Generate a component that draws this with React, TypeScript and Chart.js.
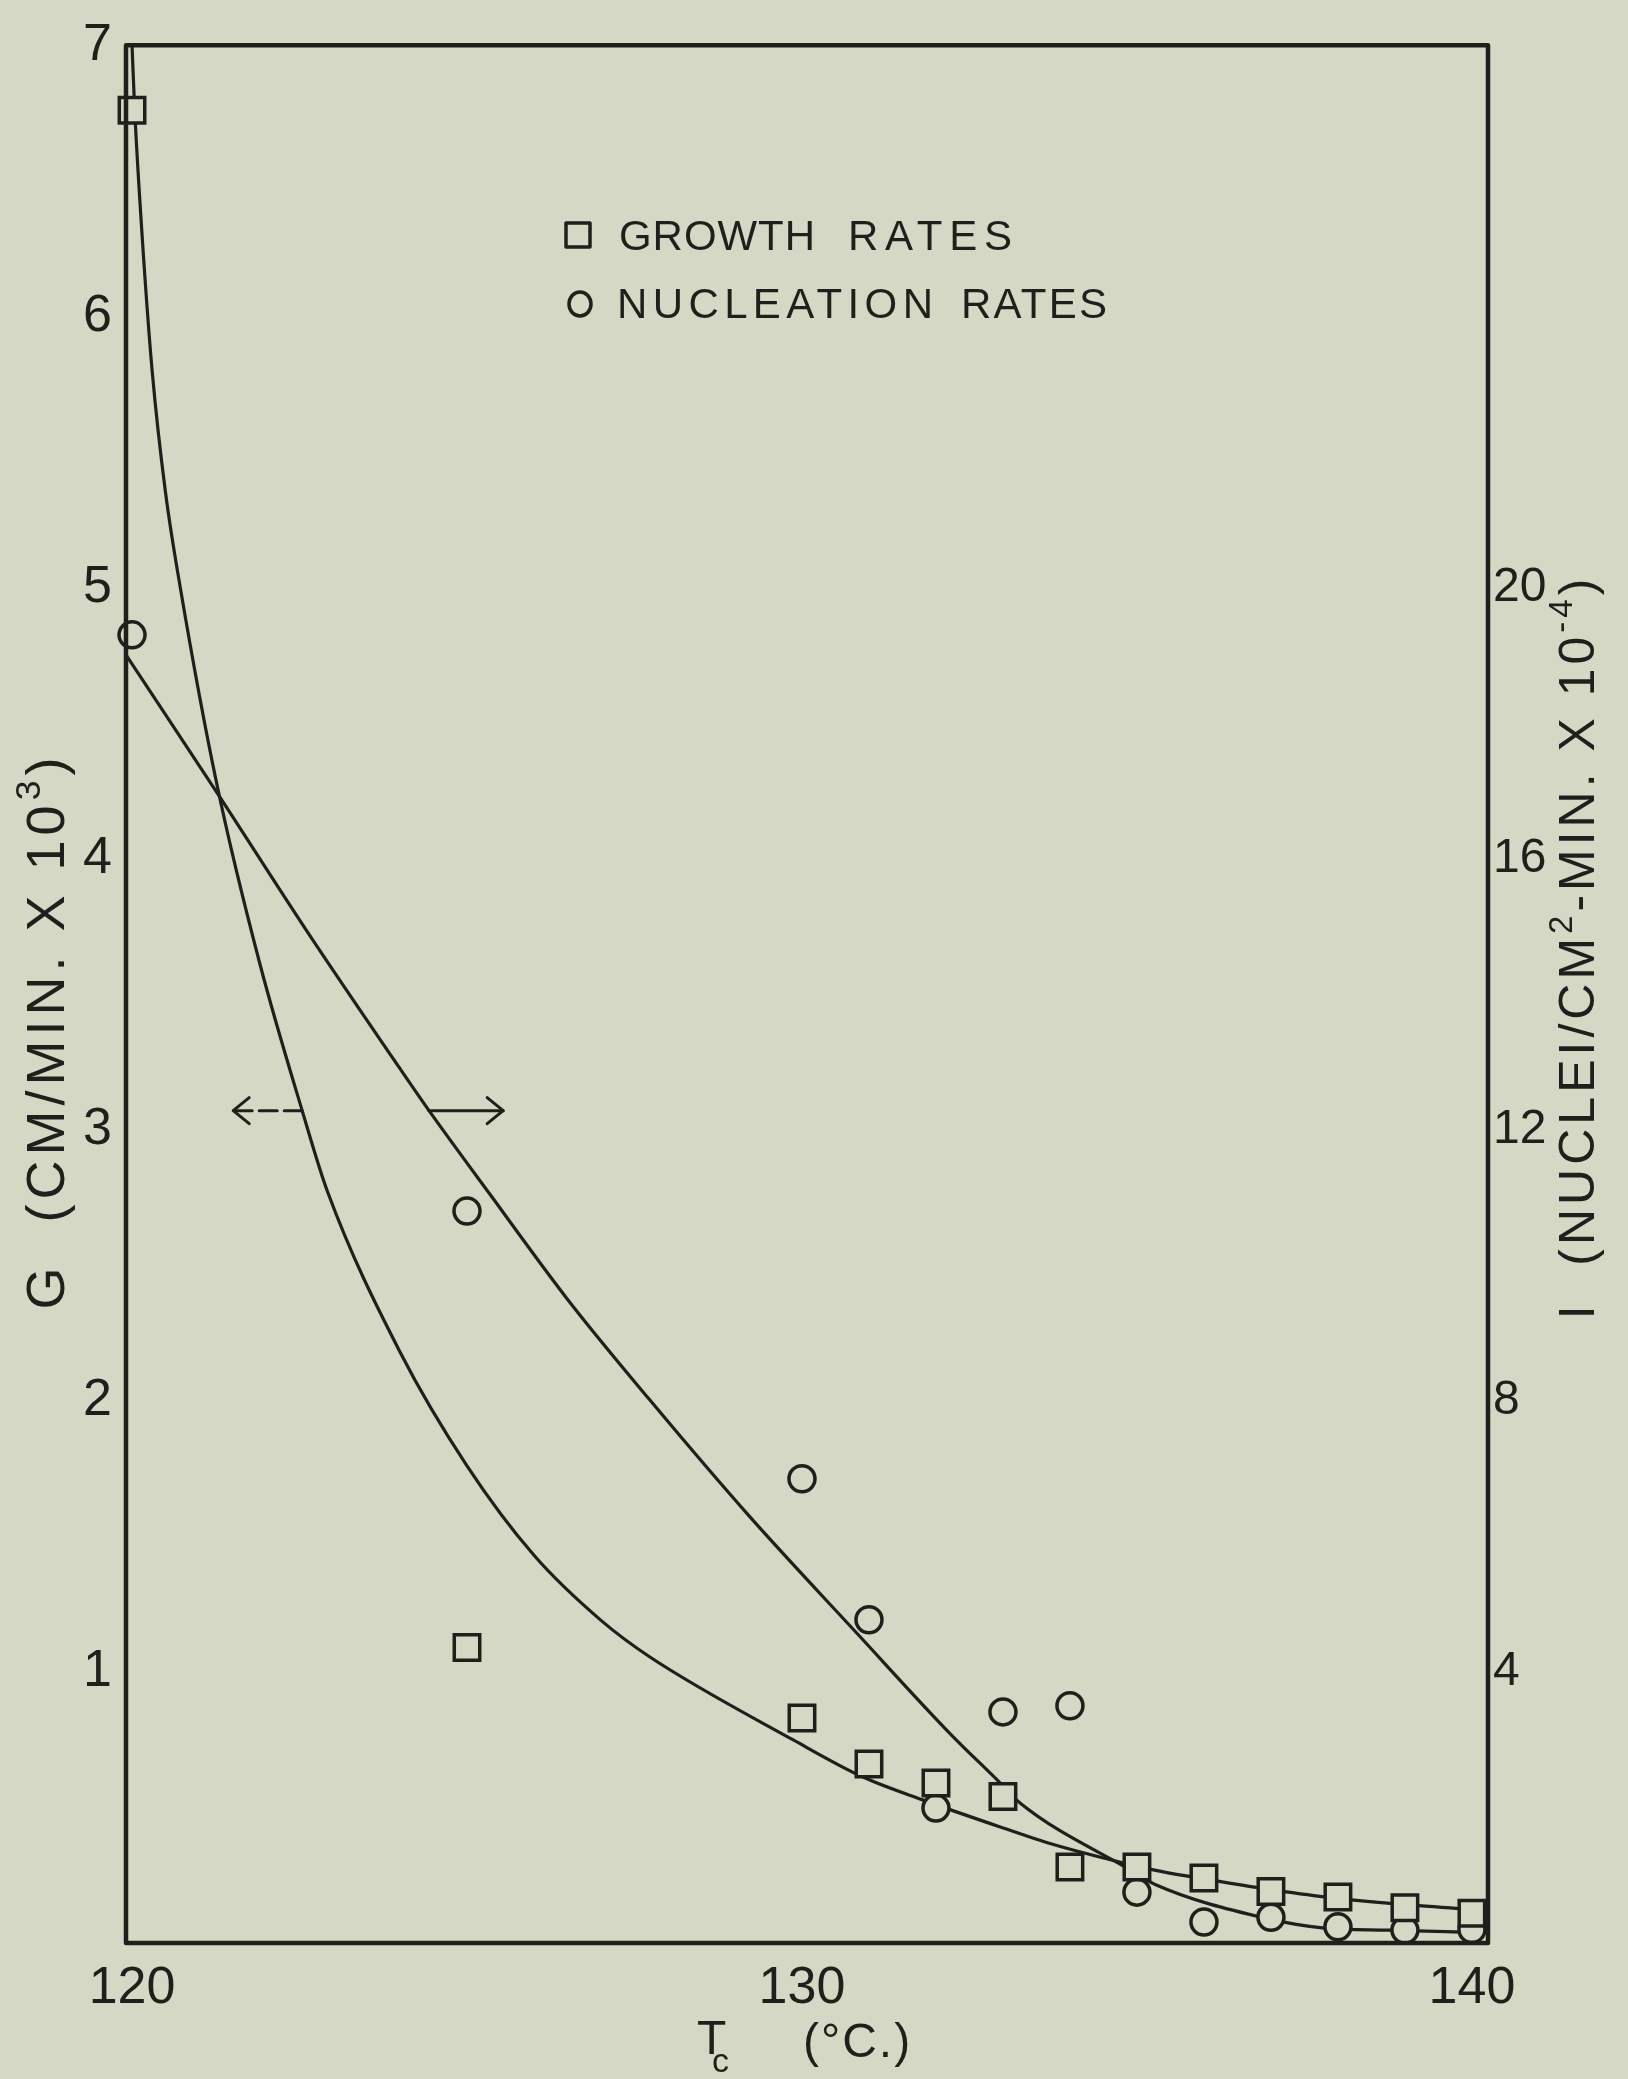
import React, { useEffect, useRef } from 'react';
import { Chart, registerables } from 'chart.js';

Chart.register(...registerables);

const W = 1628;
const H = 2079;
const BG = '#d6d8c6';
const INK = '#1f1f1c';
const FONT = "'Liberation Sans', Arial, sans-serif";

// ---- measured points ----
const growthT = [120, 125, 130, 131, 132, 133, 134, 135, 136, 137, 138, 139, 140];
const growthG = [6.76, 1.09, 0.83, 0.66, 0.59, 0.54, 0.28, 0.28, 0.24, 0.19, 0.17, 0.13, 0.11];

const nucT = [120, 125, 130, 131, 132, 133, 134, 135, 136, 137, 138, 139, 140];
const nucI = [19.3, 10.8, 6.85, 4.77, 1.99, 3.41, 3.5, 0.75, 0.31, 0.38, 0.24, 0.19, 0.2];

// ---- hand-drawn fitted curves ----
const gCurveT = [120.0, 120.04, 120.15, 120.3, 120.5, 120.72, 121.27, 121.91, 122.54, 122.92, 124.0, 125.0, 126.0, 127.0, 127.73, 129.87, 130.91, 131.81, 132.96, 133.73, 134.8, 135.28, 136.21, 136.78, 137.73, 138.78, 139.76, 140.24];
const gCurveG = [7.0, 6.76, 6.3, 5.8, 5.35, 5.0, 4.27, 3.61, 3.07, 2.77, 2.18, 1.76, 1.43, 1.19, 1.055, 0.749, 0.612, 0.527, 0.428, 0.365, 0.295, 0.268, 0.228, 0.205, 0.172, 0.146, 0.128, 0.12];

const nCurveT = [119.92, 121.29, 122.61, 124.0, 124.42, 125.34, 126.49, 127.73, 129.22, 130.82, 132.21, 132.96, 133.25, 134.93, 135.28, 136.9, 137.8, 138.75, 140.24];
const nCurveI = [18.99, 16.94, 14.93, 12.9, 12.3, 11.05, 9.51, 8.01, 6.29, 4.57, 3.09, 2.36, 2.07, 1.06, 0.86, 0.37, 0.22, 0.19, 0.15];

// ---- axes ----
const xTicks = [120, 130, 140];
const gTicks = [1, 2, 3, 4, 5, 6, 7];
const iTicks = [4, 8, 12, 16, 20];
const xRange = [119.91, 140.24];
const gRange = [0, 7];
const iRange = [0, 28];

// ---- arrows telling which axis each curve uses ----
const arrowLevelG = 3.07;
const arrowLeftT = [122.54, 121.51];
const arrowRightT = [124.43, 125.54];

type Part = { t: string; sup?: boolean; sub?: boolean };

function richWidth(ctx: CanvasRenderingContext2D, parts: Part[], size: number, spacing: number) {
  let w = 0;
  for (const p of parts) {
    const s = p.sup || p.sub ? size * 0.66 : size;
    ctx.font = `${s}px ${FONT}`;
    (ctx as any).letterSpacing = `${spacing}px`;
    w += ctx.measureText(p.t).width;
  }
  return w;
}

function drawRich(ctx: CanvasRenderingContext2D, parts: Part[], x: number, y: number, size: number, spacing: number) {
  let cx = x;
  for (const p of parts) {
    const s = p.sup || p.sub ? size * 0.66 : size;
    ctx.font = `${s}px ${FONT}`;
    (ctx as any).letterSpacing = `${spacing}px`;
    const dy = p.sup ? -size * 0.45 : p.sub ? size * 0.32 : 0;
    ctx.fillText(p.t, cx, y + dy);
    cx += ctx.measureText(p.t).width;
  }
}

// draw a word so that it spans from x0 to x1
function fitWord(ctx: CanvasRenderingContext2D, word: string, x0: number, x1: number, y: number, size: number) {
  ctx.font = `${size}px ${FONT}`;
  (ctx as any).letterSpacing = '0px';
  const natural = ctx.measureText(word).width;
  const sp = word.length > 1 ? (x1 - x0 - natural) / (word.length - 1) : 0;
  (ctx as any).letterSpacing = `${sp}px`;
  ctx.fillText(word, x0, y);
  (ctx as any).letterSpacing = '0px';
}

const decor = {
  id: 'decor',
  beforeDraw(chart: any) {
    const ctx = chart.ctx as CanvasRenderingContext2D;
    ctx.save();
    ctx.fillStyle = BG;
    ctx.fillRect(0, 0, chart.width, chart.height);
    ctx.restore();
  },
  afterDraw(chart: any) {
    const ctx = chart.ctx as CanvasRenderingContext2D;
    const a = chart.chartArea;
    const { x, y } = chart.scales;
    ctx.save();
    ctx.strokeStyle = INK;
    ctx.fillStyle = INK;
    ctx.lineCap = 'round';
    ctx.lineJoin = 'round';

    // frame
    ctx.lineWidth = 4.5;
    ctx.strokeRect(a.left, a.top, a.right - a.left, a.bottom - a.top);

    // arrows
    ctx.lineWidth = 3;
    const ya = y.getPixelForValue(arrowLevelG);
    const l0 = x.getPixelForValue(arrowLeftT[0]);
    const l1 = x.getPixelForValue(arrowLeftT[1]);
    ctx.setLineDash([18, 7]);
    ctx.beginPath();
    ctx.moveTo(l0, ya);
    ctx.lineTo(l1, ya);
    ctx.stroke();
    ctx.setLineDash([]);
    ctx.beginPath();
    ctx.moveTo(l1 + 16, ya - 13);
    ctx.lineTo(l1, ya);
    ctx.lineTo(l1 + 16, ya + 13);
    ctx.stroke();
    const r0 = x.getPixelForValue(arrowRightT[0]);
    const r1 = x.getPixelForValue(arrowRightT[1]);
    ctx.beginPath();
    ctx.moveTo(r0, ya);
    ctx.lineTo(r1, ya);
    ctx.stroke();
    ctx.beginPath();
    ctx.moveTo(r1 - 16, ya - 13);
    ctx.lineTo(r1, ya);
    ctx.lineTo(r1 - 16, ya + 13);
    ctx.stroke();

    // legend
    ctx.lineWidth = 3.5;
    ctx.strokeRect(566, 223, 24, 24);
    ctx.beginPath();
    ctx.ellipse(580, 304, 11, 12, 0, 0, Math.PI * 2);
    ctx.stroke();
    ctx.textBaseline = 'alphabetic';
    ctx.textAlign = 'left';
    fitWord(ctx, 'GROWTH', 619, 815, 250, 42);
    fitWord(ctx, 'RATES', 848, 1012, 250, 42);
    fitWord(ctx, 'NUCLEATION', 617, 933, 318, 42);
    fitWord(ctx, 'RATES', 961, 1107, 318, 42);

    // left axis title
    const leftParts: Part[] = [{ t: 'G  (CM/MIN. X 10' }, { t: '3', sup: true }, { t: ')' }];
    ctx.save();
    ctx.translate(64, 1031);
    ctx.rotate(-Math.PI / 2);
    const lw = richWidth(ctx, leftParts, 54, 5);
    drawRich(ctx, leftParts, -lw / 2, 0, 54, 5);
    ctx.restore();

    // right axis title
    const rightParts: Part[] = [
      { t: 'I  (NUCLEI/CM' },
      { t: '2', sup: true },
      { t: '-MIN. X 10' },
      { t: '-4', sup: true },
      { t: ')' },
    ];
    ctx.save();
    ctx.translate(1594, 947);
    ctx.rotate(-Math.PI / 2);
    const rw = richWidth(ctx, rightParts, 50, 4);
    drawRich(ctx, rightParts, -rw / 2, 0, 50, 4);
    ctx.restore();

    // x axis title
    (ctx as any).letterSpacing = '0px';
    ctx.font = `48px ${FONT}`;
    ctx.fillText('T', 697, 2054);
    ctx.font = `34px ${FONT}`;
    ctx.fillText('c', 712, 2072);
    ctx.font = `48px ${FONT}`;
    (ctx as any).letterSpacing = '2px';
    ctx.fillText('(°C.)', 803, 2057);

    ctx.restore();
  },
};

export default function App() {
  const ref = useRef<HTMLCanvasElement>(null);

  useEffect(() => {
    if (!ref.current) return;
    const tickFont = { family: FONT, size: 52 };
    const chart = new Chart(ref.current, {
      type: 'line',
      data: {
        datasets: [
          {
            label: 'Growth rates',
            data: growthT.map((t, i) => ({ x: t, y: growthG[i] })),
            yAxisID: 'y',
            showLine: false,
            pointStyle: 'rect',
            pointRadius: 18,
            pointBorderWidth: 3.5,
            pointBorderColor: INK,
            pointBackgroundColor: BG,
            borderColor: INK,
            clip: false,
            order: 0,
          },
          {
            label: 'Nucleation rates',
            data: nucT.map((t, i) => ({ x: t, y: nucI[i] })),
            yAxisID: 'y2',
            showLine: false,
            pointStyle: 'circle',
            pointRadius: 13,
            pointBorderWidth: 3.5,
            pointBorderColor: INK,
            pointBackgroundColor: BG,
            borderColor: INK,
            clip: false,
            order: 0,
          },
          {
            label: 'G curve',
            data: gCurveT.map((t, i) => ({ x: t, y: gCurveG[i] })),
            yAxisID: 'y',
            borderColor: INK,
            borderWidth: 3.2,
            pointRadius: 0,
            cubicInterpolationMode: 'monotone',
            fill: false,
            order: 1,
          },
          {
            label: 'I curve',
            data: nCurveT.map((t, i) => ({ x: t, y: nCurveI[i] })),
            yAxisID: 'y2',
            borderColor: INK,
            borderWidth: 3.2,
            pointRadius: 0,
            cubicInterpolationMode: 'monotone',
            fill: false,
            order: 1,
          },
        ],
      },
      options: {
        responsive: false,
        devicePixelRatio: 1,
        animation: false,
        events: [],
        layout: { padding: { top: 45, left: 0, right: 0, bottom: 0 } },
        plugins: { legend: { display: false }, tooltip: { enabled: false }, title: { display: false } },
        scales: {
          x: {
            type: 'linear',
            min: xRange[0],
            max: xRange[1],
            afterBuildTicks: (s: any) => {
              s.ticks = xTicks.map((v) => ({ value: v }));
            },
            afterFit: (s: any) => {
              s.height = H - 1943;
            },
            grid: { display: false, drawTicks: false },
            border: { display: false },
            ticks: {
              font: tickFont,
              color: INK,
              padding: 14,
              maxRotation: 0,
              autoSkip: false,
              callback: (v: any) => `${v}`,
            },
          },
          y: {
            type: 'linear',
            position: 'left',
            min: gRange[0],
            max: gRange[1],
            afterBuildTicks: (s: any) => {
              s.ticks = gTicks.map((v) => ({ value: v }));
            },
            afterFit: (s: any) => {
              s.width = 126;
            },
            grid: { display: false, drawTicks: false },
            border: { display: false },
            ticks: { font: tickFont, color: INK, padding: 14, callback: (v: any) => `${v}` },
          },
          y2: {
            type: 'linear',
            position: 'right',
            min: iRange[0],
            max: iRange[1],
            afterBuildTicks: (s: any) => {
              s.ticks = iTicks.map((v) => ({ value: v }));
            },
            afterFit: (s: any) => {
              s.width = W - 1488;
            },
            grid: { display: false, drawTicks: false },
            border: { display: false },
            ticks: { font: { family: FONT, size: 48 }, color: INK, padding: 5, callback: (v: any) => `${v}` },
          },
        },
      },
      plugins: [decor],
    } as any);
    return () => chart.destroy();
  }, []);

  return (
    <div style={{ position: 'absolute', left: 0, top: 0, width: W, height: H, background: BG }}>
      <canvas ref={ref} width={W} height={H} style={{ display: 'block', width: W, height: H }} />
    </div>
  );
}
